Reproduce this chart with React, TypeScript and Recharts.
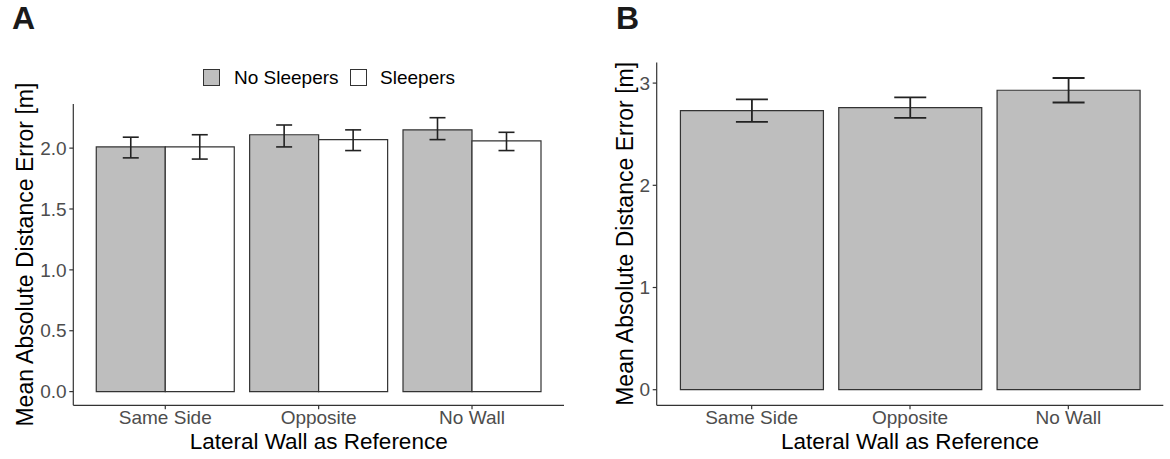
import { BarChart, Bar, XAxis, YAxis, ErrorBar } from "recharts";

const CATEGORIES = ["Same Side", "Opposite", "No Wall"];
const SERIES_NAMES = ["No Sleepers", "Sleepers"];

// panel A: split by sleepers condition
const NO_SLEEPERS_MEAN = [2.01, 2.11, 2.15];
const NO_SLEEPERS_LOW = [1.92, 2.01, 2.07];
const NO_SLEEPERS_HIGH = [2.09, 2.19, 2.25];
const SLEEPERS_MEAN = [2.01, 2.07, 2.06];
const SLEEPERS_LOW = [1.91, 1.98, 1.98];
const SLEEPERS_HIGH = [2.11, 2.15, 2.13];

// panel B: pooled
const POOLED_MEAN = [2.73, 2.76, 2.93];
const POOLED_LOW = [2.62, 2.66, 2.81];
const POOLED_HIGH = [2.84, 2.86, 3.05];

const TICKS_A = [0, 0.5, 1, 1.5, 2];
const TICKS_B = [0, 1, 2, 3];

const X_TITLE = "Lateral Wall as Reference";
const Y_TITLE = "Mean Absolute Distance Error [m]";

const FONT = "'Liberation Sans', Arial, Helvetica, sans-serif";
const GREY = "#BEBEBE";
const LINE = "#333333";
const TICK_TEXT = { fill: "#4D4D4D", fontSize: 19 };

const dataA = CATEGORIES.map((cat, i) => ({
  cat,
  ns: NO_SLEEPERS_MEAN[i],
  nsErr: [NO_SLEEPERS_MEAN[i] - NO_SLEEPERS_LOW[i], NO_SLEEPERS_HIGH[i] - NO_SLEEPERS_MEAN[i]],
  s: SLEEPERS_MEAN[i],
  sErr: [SLEEPERS_MEAN[i] - SLEEPERS_LOW[i], SLEEPERS_HIGH[i] - SLEEPERS_MEAN[i]],
}));

const dataB = CATEGORIES.map((cat, i) => ({
  cat,
  m: POOLED_MEAN[i],
  mErr: [POOLED_MEAN[i] - POOLED_LOW[i], POOLED_HIGH[i] - POOLED_MEAN[i]],
}));

// ggplot-style 5% expansion on the data range (0 .. highest error bar)
const expand = (highs: number[]): [number, number] => {
  const max = Math.max(...highs);
  return [-0.05 * max, 1.05 * max];
};

const xTitle = (props: any) => {
  const vb = props.viewBox || {};
  const cx = vb.x + vb.width / 2;
  return (
    <text x={cx} y={449} textAnchor="middle" fontSize={22.5} fill="#000">
      {X_TITLE}
    </text>
  );
};

const yTitle = (cx: number, cy: number) => () =>
  (
    <text
      x={cx}
      y={cy}
      transform={`rotate(-90 ${cx} ${cy})`}
      textAnchor="middle"
      dy="0.355em"
      fontSize={23}
      fill="#000"
    >
      {Y_TITLE}
    </text>
  );

const axisCommon = {
  axisLine: { stroke: LINE, strokeWidth: 1.2 },
  tickLine: { stroke: LINE, strokeWidth: 1.2 },
  tickSize: 4,
  tick: TICK_TEXT,
};

function PanelLetter({ letter, left }: { letter: string; left: number }) {
  return (
    <div
      style={{
        position: "absolute",
        left,
        top: 2,
        fontSize: 32,
        lineHeight: "32px",
        fontWeight: 700,
        color: "#1a1a1a",
      }}
    >
      {letter}
    </div>
  );
}

function LegendBox({ fill }: { fill: string }) {
  return (
    <div
      style={{
        width: 17,
        height: 17,
        boxSizing: "border-box",
        border: `1.2px solid ${LINE}`,
        background: fill,
      }}
    />
  );
}

export default function App() {
  return (
    <div
      style={{
        position: "absolute",
        left: 0,
        top: 0,
        width: 1170,
        height: 459,
        background: "#fff",
        fontFamily: FONT,
      }}
    >
      <PanelLetter letter="A" left={12} />
      <PanelLetter letter="B" left={616} />

      <div
        style={{
          position: "absolute",
          left: 203,
          top: 69,
          height: 17,
          display: "flex",
          alignItems: "center",
          fontSize: 19,
          lineHeight: "19px",
          color: "#000",
        }}
      >
        <LegendBox fill={GREY} />
        <span style={{ marginLeft: 14 }}>{SERIES_NAMES[0]}</span>
        <div style={{ marginLeft: 11 }}>
          <LegendBox fill="#fff" />
        </div>
        <span style={{ marginLeft: 13.5 }}>{SERIES_NAMES[1]}</span>
      </div>

      <div style={{ position: "absolute", left: 0, top: 0 }}>
        <BarChart
          width={580}
          height={459}
          data={dataA}
          margin={{ top: 104, right: 16, bottom: 0, left: 0 }}
          barCategoryGap="5%"
          barGap={0}
        >
          <XAxis
            dataKey="cat"
            {...axisCommon}
            tickMargin={1.5}
            height={53.7}
            padding={{ left: 15.3, right: 15.3 }}
            interval={0}
            label={{ content: xTitle }}
          />
          <YAxis
            type="number"
            domain={expand([...NO_SLEEPERS_HIGH, ...SLEEPERS_HIGH])}
            ticks={TICKS_A}
            tickFormatter={(v: number) => v.toFixed(1)}
            {...axisCommon}
            tickMargin={2.6}
            width={73.3}
            label={{ content: yTitle(25, 254.6) }}
          />
          <Bar dataKey="ns" name={SERIES_NAMES[0]} fill={GREY} stroke={LINE} strokeWidth={1.2} isAnimationActive={false}>
            <ErrorBar dataKey="nsErr" direction="y" width={8} stroke="#222" strokeWidth={1.6} isAnimationActive={false} />
          </Bar>
          <Bar dataKey="s" name={SERIES_NAMES[1]} fill="#fff" stroke={LINE} strokeWidth={1.2} isAnimationActive={false}>
            <ErrorBar dataKey="sErr" direction="y" width={8} stroke="#222" strokeWidth={1.6} isAnimationActive={false} />
          </Bar>
        </BarChart>
      </div>

      <div style={{ position: "absolute", left: 590, top: 0 }}>
        <BarChart
          width={580}
          height={459}
          data={dataB}
          margin={{ top: 62.4, right: 6.7, bottom: 0, left: 0 }}
          barCategoryGap="5%"
          barGap={0}
        >
          <XAxis
            dataKey="cat"
            {...axisCommon}
            tickMargin={1.5}
            height={53.7}
            padding={{ left: 15.8, right: 15.8 }}
            interval={0}
            label={{ content: xTitle }}
          />
          <YAxis
            type="number"
            domain={expand(POOLED_HIGH)}
            ticks={TICKS_B}
            {...axisCommon}
            tickMargin={2.7}
            width={66.7}
            label={{ content: yTitle(35, 233.85) }}
          />
          <Bar dataKey="m" fill={GREY} stroke={LINE} strokeWidth={1.2} isAnimationActive={false}>
            <ErrorBar dataKey="mErr" direction="y" width={16} stroke="#222" strokeWidth={1.8} isAnimationActive={false} />
          </Bar>
        </BarChart>
      </div>
    </div>
  );
}
